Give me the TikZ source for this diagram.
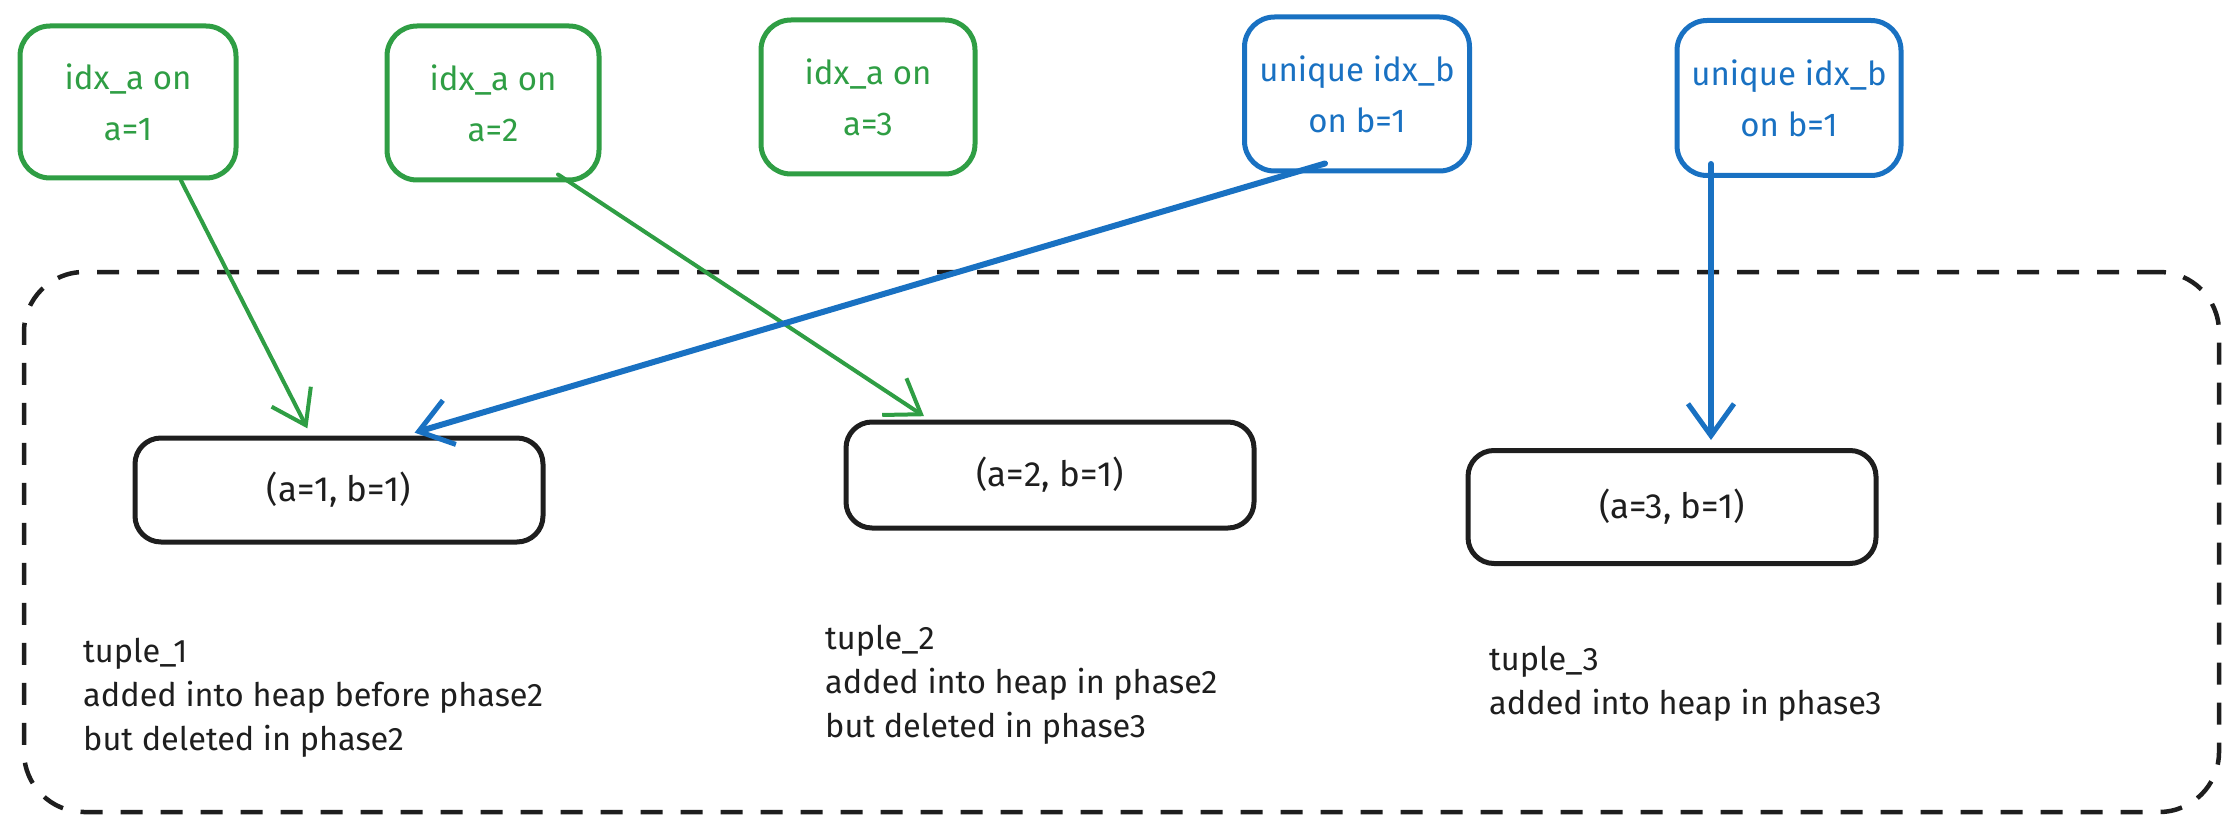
\documentclass[tikz,border=0pt]{standalone}
\usepackage{fontspec}
\setmainfont{Fira Sans}
\usetikzlibrary{arrows.meta}
\definecolor{exgreen}{HTML}{2F9E44}
\definecolor{exblue}{HTML}{1971C2}
\definecolor{exblack}{HTML}{1E1E1E}
\tikzset{
  idxbox/.style={draw, line width=5pt, rounded corners=30pt, align=center,
    font=\fontsize{33}{51}\selectfont, inner sep=0pt},
  gbox/.style={idxbox, draw=exgreen, text=exgreen},
  bbox/.style={idxbox, draw=exblue, text=exblue},
  tuplebox/.style={draw=exblack, text=exblack, line width=5pt, rounded corners=26pt,
    minimum width=408pt, font=\fontsize{35}{40}\selectfont, inner sep=0pt},
  lbl/.style={anchor=north west, align=left, text=exblack, inner sep=0pt,
    font=\fontsize{32.5}{44}\selectfont},
  heapbox/.style={draw=exblack, line width=4.5pt, dash pattern=on 22pt off 18pt,
    rounded corners=60pt, inner sep=0pt},
  garrow/.style={draw=exgreen, line width=4pt, line cap=round,
    -{Straight Barb[length=32pt, width=44pt, line width=4pt]}},
  barrow/.style={draw=exblue, line width=6pt, line cap=round,
    -{Straight Barb[length=32pt, width=46pt, line width=5pt]}},
}
\begin{document}
\begin{tikzpicture}[x=1pt,y=-1pt]
\useasboundingbox (0,0) rectangle (2238,829);
% container
\node[heapbox, minimum width=2195pt, minimum height=540pt] (heap) at (1121.5,542) {};
% index boxes
\node[gbox, minimum width=216pt, minimum height=152pt] (g1) at (128,102) {idx\_a on\\a=1};
\node[gbox, minimum width=212pt, minimum height=154pt] (g2) at (493,103) {idx\_a on\\a=2};
\node[gbox, minimum width=214pt, minimum height=154pt] (g3) at (868,97) {idx\_a on\\a=3};
\node[bbox, minimum width=225pt, minimum height=154pt] (b1) at (1357,94) {unique idx\_b\\on b=1};
\node[bbox, minimum width=224pt, minimum height=155pt] (b2) at (1789,98) {unique idx\_b\\on b=1};
% tuples
\node[tuplebox, minimum height=104pt] (t1) at (339,490) {(a=1, b=1)};
\node[tuplebox, minimum height=106pt] (t2) at (1050,475) {(a=2, b=1)};
\node[tuplebox, minimum height=113pt] (t3) at (1672,507) {(a=3, b=1)};
% labels
\node[lbl] (l1) at (83,638) {tuple\_1\\added into heap before phase2\\but deleted in phase2};
\node[lbl] (l2) at (825,625) {tuple\_2\\added into heap in phase2\\but deleted in phase3};
\node[lbl] (l3) at (1489,646) {tuple\_3\\added into heap in phase3};
% connectors
\draw[garrow, shorten >=8pt] ([xshift=53pt]g1.south) -- ([xshift=-28pt]t1.north);
\draw[garrow, shorten >=6pt] ([xshift=65pt,yshift=8pt]g2.south) -- ([xshift=-121pt]t2.north);
\draw[barrow, shorten >=10pt] ([xshift=-32pt,yshift=10pt]b1.south) -- ([xshift=66pt]t1.north);
\draw[barrow, shorten >=8pt] ([xshift=-78pt,yshift=14pt]b2.south) -- ([xshift=39pt]t3.north);
\end{tikzpicture}
\end{document}
